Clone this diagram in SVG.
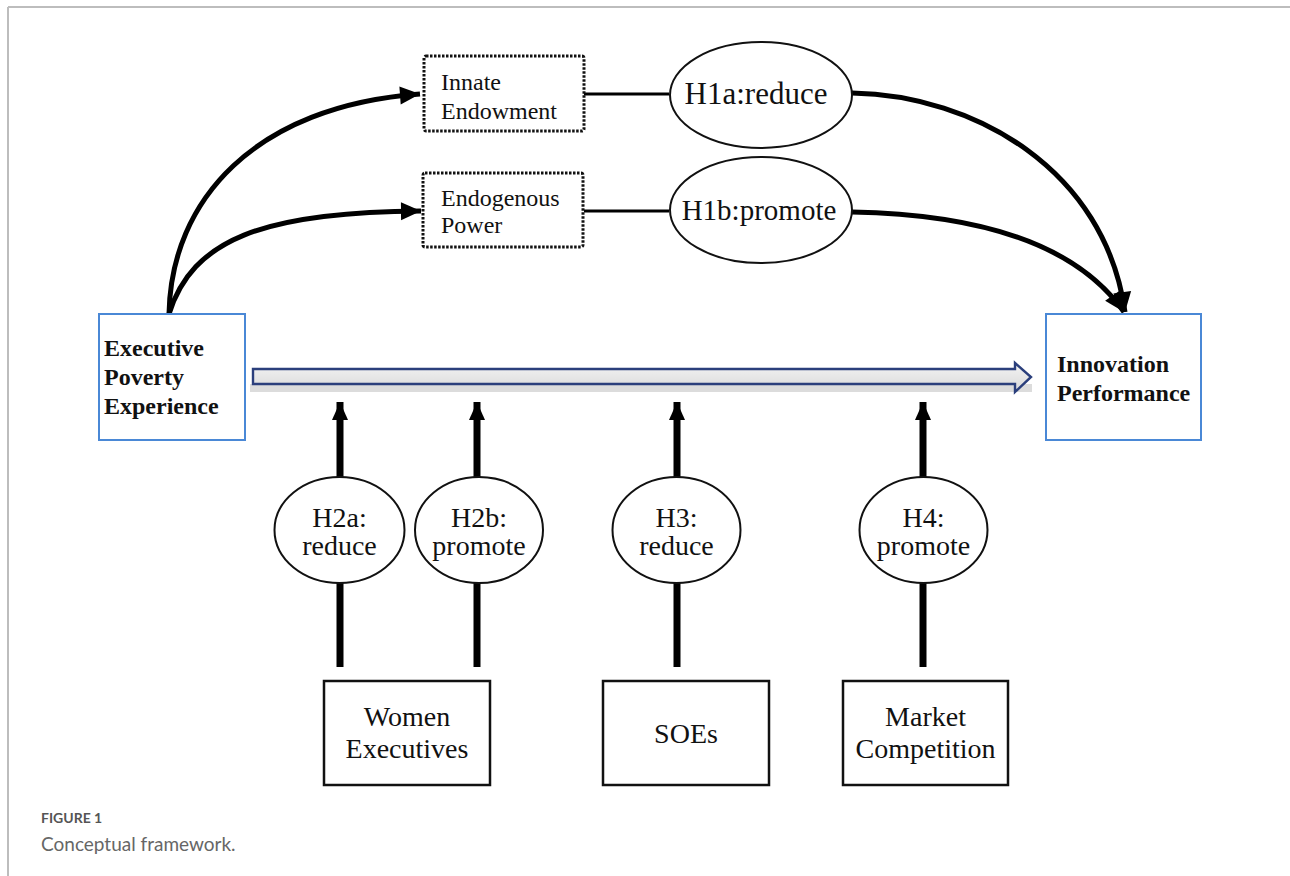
<svg xmlns="http://www.w3.org/2000/svg" width="1290" height="876" viewBox="0 0 1290 876">
<defs>
<style>
.serif{font-family:"Liberation Serif","Times New Roman",serif;fill:#111}
.bold{font-weight:bold;font-size:24px}
.lbl{font-size:24px}
.hyp{font-size:28px;text-anchor:middle}
.hyp1{font-size:31px;text-anchor:middle}
.hyp1b{font-size:29px;text-anchor:middle}
.box{font-size:28px;text-anchor:middle}
.blue{fill:#fff;stroke:#4a88d6;stroke-width:2}
.dot{fill:#fff;stroke:#111;stroke-width:3;stroke-dasharray:2.5 1.5}
.ell{fill:#fff;stroke:#111;stroke-width:2}
.rect{fill:#fff;stroke:#111;stroke-width:2.5}
.curve{fill:none;stroke:#000;stroke-width:5}
.vline{fill:none;stroke:#000;stroke-width:7}
</style>
<marker id="ah" markerUnits="userSpaceOnUse" markerWidth="24" markerHeight="24" viewBox="0 0 24 24" refX="22" refY="12" orient="auto">
<path d="M2,3 L22,12 L2,21 Z" fill="#000"/>
</marker>
<marker id="ahv" markerUnits="userSpaceOnUse" markerWidth="20" markerHeight="20" viewBox="0 0 20 20" refX="18" refY="10" orient="auto">
<path d="M0,2 L18,10 L0,18 Z" fill="#000"/>
</marker>
<linearGradient id="shaft" x1="0" y1="0" x2="0" y2="1">
<stop offset="0" stop-color="#f4f4f4"/>
<stop offset="1" stop-color="#d8d8d8"/>
</linearGradient>
</defs>
<rect x="0" y="0" width="1290" height="876" fill="#fff"/>
<line x1="8" y1="7" x2="1290" y2="7" stroke="#bdbdbd" stroke-width="2"/>
<line x1="8" y1="7" x2="8" y2="876" stroke="#bdbdbd" stroke-width="2"/>

<g id="connectors">
<path class="curve" d="M169,314 C171,200 255,106 420,94" marker-end="url(#ah)"/>
<path class="curve" d="M169,314 C192,240 262,212 421,211" marker-end="url(#ah)"/>
<line x1="584" y1="94" x2="669" y2="94" stroke="#000" stroke-width="3"/>
<line x1="584" y1="211" x2="669" y2="211" stroke="#000" stroke-width="3"/>
<path class="curve" d="M852,93 C975,95 1105,170 1125,312" marker-end="url(#ah)"/>
<path class="curve" d="M852,212 C960,214 1070,235 1124,312" marker-end="url(#ah)"/>
<rect x="250" y="384" width="782" height="8" fill="#dcdcdc"/>
<path d="M253,369 L1015,369 L1015,363 L1031,377 L1015,392 L1015,384 L253,384 Z" fill="url(#shaft)" stroke="#2b3f7c" stroke-width="2.4" stroke-linejoin="miter"/>
<line class="vline" x1="340" y1="667" x2="340" y2="583"/>
<line class="vline" x1="340" y1="478" x2="340" y2="402" marker-end="url(#ahv)"/>
<line class="vline" x1="477" y1="667" x2="477" y2="583"/>
<line class="vline" x1="477" y1="478" x2="477" y2="402" marker-end="url(#ahv)"/>
<line class="vline" x1="677" y1="667" x2="677" y2="583"/>
<line class="vline" x1="677" y1="478" x2="677" y2="402" marker-end="url(#ahv)"/>
<line class="vline" x1="923" y1="667" x2="923" y2="583"/>
<line class="vline" x1="923" y1="478" x2="923" y2="402" marker-end="url(#ahv)"/>
</g>

<g id="exec">
<rect class="blue" x="99" y="314" width="146" height="126"/>
<text class="serif bold" x="104" y="356">Executive</text>
<text class="serif bold" x="104" y="385">Poverty</text>
<text class="serif bold" x="104" y="414">Experience</text>
</g>
<g id="innovation">
<rect class="blue" x="1046" y="314" width="155" height="126"/>
<text class="serif bold" x="1057" y="372">Innovation</text>
<text class="serif bold" x="1057" y="401">Performance</text>
</g>
<g id="innate">
<rect class="dot" x="424" y="56" width="160" height="75" rx="2"/>
<text class="serif lbl" x="441" y="90">Innate</text>
<text class="serif lbl" x="441" y="119">Endowment</text>
</g>
<g id="endogenous">
<rect class="dot" x="423" y="173" width="160" height="74" rx="2"/>
<text class="serif lbl" x="441" y="206">Endogenous</text>
<text class="serif lbl" x="441" y="233">Power</text>
</g>
<g id="h1a">
<ellipse class="ell" cx="761" cy="95" rx="91" ry="53"/>
<text class="serif hyp1" x="756" y="104">H1a:reduce</text>
</g>
<g id="h1b">
<ellipse class="ell" cx="761" cy="210" rx="91" ry="53"/>
<text class="serif hyp1b" x="759" y="220">H1b:promote</text>
</g>
<g id="h2a">
<ellipse class="ell" cx="339.5" cy="530" rx="65" ry="53"/>
<text class="serif hyp" x="339.5" y="527">H2a:</text>
<text class="serif hyp" x="339.5" y="555">reduce</text>
</g>
<g id="h2b">
<ellipse class="ell" cx="479" cy="530" rx="64" ry="53"/>
<text class="serif hyp" x="479" y="527">H2b:</text>
<text class="serif hyp" x="479" y="555">promote</text>
</g>
<g id="h3">
<ellipse class="ell" cx="676.5" cy="530" rx="64" ry="53"/>
<text class="serif hyp" x="676.5" y="527">H3:</text>
<text class="serif hyp" x="676.5" y="555">reduce</text>
</g>
<g id="h4">
<ellipse class="ell" cx="923.5" cy="530" rx="64" ry="53"/>
<text class="serif hyp" x="923.5" y="527">H4:</text>
<text class="serif hyp" x="923.5" y="555">promote</text>
</g>
<g id="women">
<rect class="rect" x="324" y="681" width="166" height="104"/>
<text class="serif box" x="407" y="726">Women</text>
<text class="serif box" x="407" y="758">Executives</text>
</g>
<g id="soes">
<rect class="rect" x="603" y="681" width="166" height="104"/>
<text class="serif box" x="686" y="743">SOEs</text>
</g>
<g id="market">
<rect class="rect" x="843" y="681" width="165" height="104"/>
<text class="serif box" x="925.5" y="726">Market</text>
<text class="serif box" x="925.5" y="758">Competition</text>
</g>
<g id="caption">
<text x="41" y="823" font-family="Lato, 'Open Sans', sans-serif" font-weight="bold" font-size="14" fill="#555">FIGURE 1</text>
<text x="41" y="851" font-family="Lato, 'Open Sans', sans-serif" font-size="19" fill="#666">Conceptual framework.</text>
</g>
</svg>
